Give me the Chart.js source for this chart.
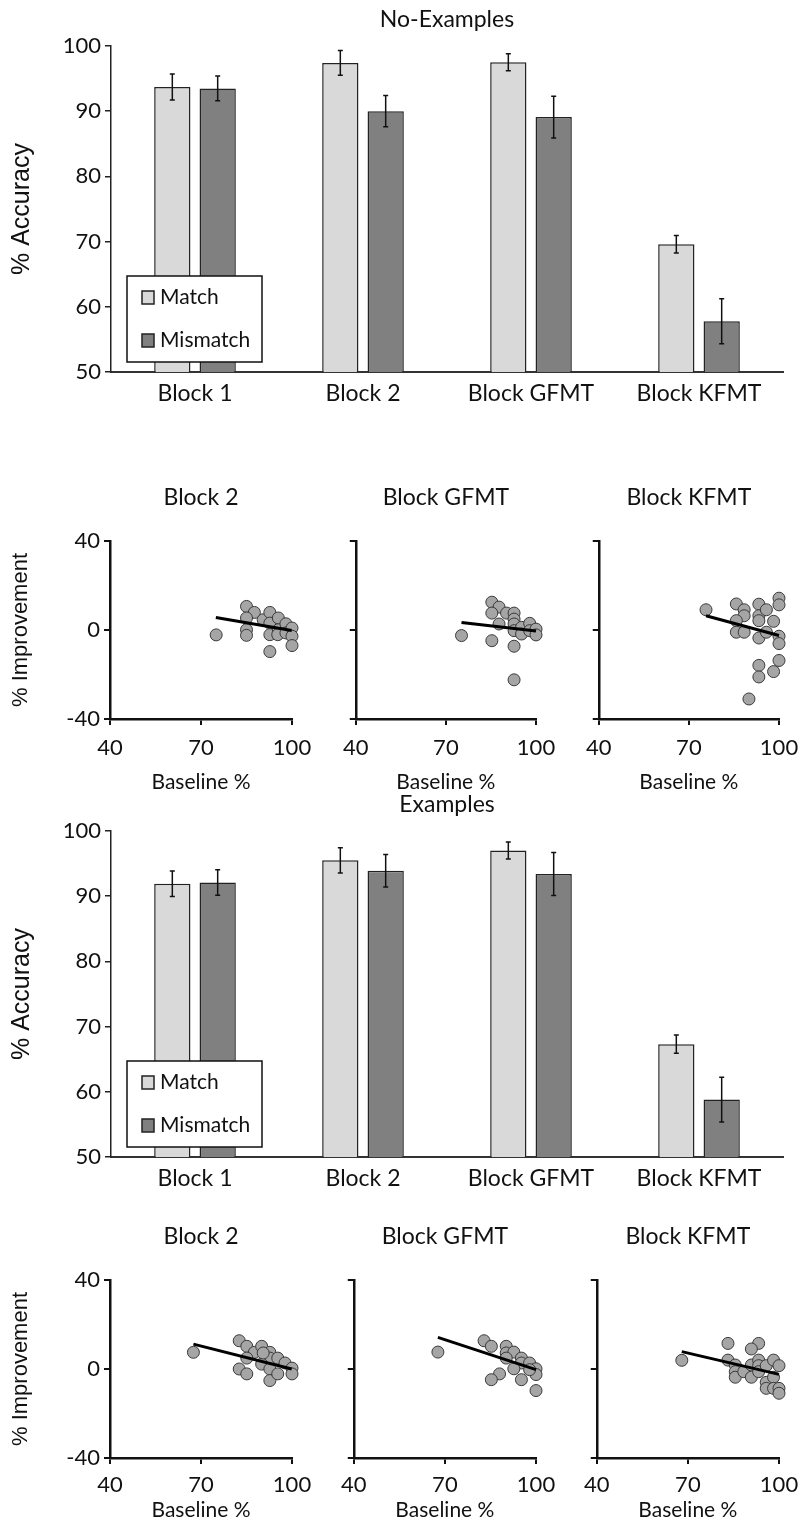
<!DOCTYPE html>
<html>
<head>
<meta charset="utf-8">
<script src="https://cdn.jsdelivr.net/npm/chart.js@4.4.0/dist/chart.umd.min.js"></script>
<style>
  html, body { margin: 0; padding: 0; background: #fff; overflow: hidden; }
  #page { position: relative; width: 800px; height: 1522px; overflow: hidden; }
  canvas { position: absolute; }
</style>
</head>
<body>
<div id="page">
  <canvas id="barNoEx" width="800" height="420" style="left:0;top:0"></canvas>
  <canvas id="scNoEx1" width="332" height="319" style="left:0;top:487px"></canvas>
  <canvas id="scNoEx2" width="243" height="319" style="left:333px;top:487px"></canvas>
  <canvas id="scNoEx3" width="243" height="319" style="left:576px;top:487px"></canvas>
  <canvas id="barEx" width="800" height="420" style="left:0;top:785px"></canvas>
  <canvas id="scEx1" width="332" height="308" style="left:0;top:1226px"></canvas>
  <canvas id="scEx2" width="243" height="308" style="left:333px;top:1226px"></canvas>
  <canvas id="scEx3" width="243" height="308" style="left:576px;top:1226px"></canvas>
</div>
<script>
// Categories
const blockLabels = ["Block 1", "Block 2", "Block GFMT", "Block KFMT"];

// No-Examples accuracy (%) and error bars
const noExMatch = [93.7, 97.4, 97.5, 69.6];
const noExMatchErr = [2.0, 1.9, 1.3, 1.35];
const noExMismatch = [93.5, 90.0, 89.1, 57.8];
const noExMismatchErr = [1.9, 2.4, 3.2, 3.45];

// Examples accuracy (%) and error bars
const exMatch = [91.9, 95.5, 97.0, 67.3];
const exMatchErr = [1.95, 1.95, 1.3, 1.4];
const exMismatch = [92.1, 93.9, 93.4, 58.8];
const exMismatchErr = [1.95, 2.5, 3.3, 3.45];

// Scatter: [baseline %, improvement %]
const noExBlock2 = [[75, -2.2], [85, 10.6], [87.6, 7.9], [85, 5.4], [85, 0.1], [85, -2.4], [90.5, 4.6],
  [92.7, 7.9], [92.7, 3.1], [92.7, -2.1], [92.7, -9.7], [95.5, 5.4], [95.5, 0.1], [95.3, -2.1],
  [98, 2.8], [98, -1.3], [100, 0.9], [100, -2.8], [100, -7.0]];
const noExBlock2Fit = [[74.9, 5.6], [99.9, -0.2]];

const noExGFMT = [[75.2, -2.5], [85.3, 12.5], [87.7, 10.3], [85.3, 7.6], [90.2, 7.6], [87.7, 2.7], [85.3, -4.8],
  [92.7, 7.6], [92.7, 4.9], [92.7, 2.7], [92.7, -0.3], [92.7, -7.3], [92.7, -22.4], [95.2, 1.2],
  [95.2, -1.8], [97.9, 3.0], [97.9, -0.3], [100, 0.4], [100, -2.2]];
const noExGFMTFit = [[75.2, 3.4], [100, -0.5]];

const noExKFMT = [[75.7, 9.1], [85.8, 11.7], [88.4, 9.1], [88.4, 6.4], [85.8, 4.2], [85.8, -1.0], [88.4, -1.0],
  [93.3, 11.6], [93.3, 6.4], [93.3, 4.2], [93.3, -3.6], [95.8, 9.1], [95.8, -1.0], [98.2, 3.9],
  [100, 14.3], [100, 11.3], [100, -2.8], [100, -6.1], [100, -13.7], [98.2, -18.7], [93.3, -15.9],
  [93.3, -21.1], [90, -31]];
const noExKFMTFit = [[75.7, 6.4], [100, -2.5]];

const exBlock2 = [[67.5, 7.5], [82.6, 12.7], [85.1, 10.2], [87.6, 7.5], [90, 10.2], [85.1, 4.9], [82.6, 0],
  [85.1, -2.2], [92.7, 7.5], [92.7, 4.9], [90, 2.2], [92.7, 0], [92.7, -5.2], [95.3, 4.9],
  [95.3, -2.2], [97.7, 2.7], [100, 0.4], [100, -2.2], [90.5, 7.2]];
const exBlock2Fit = [[67.5, 11.2], [99.9, 0]];

const exGFMT = [[67.7, 7.6], [82.9, 12.7], [85.3, 10.2], [90.2, 10.2], [90.2, 7.2], [92.7, 7.6], [90.2, 4.9],
  [95.2, 4.9], [95.2, 2.7], [97.9, 2.7], [92.7, 0.1], [100, 0.1], [100, -2.5], [97.9, -0.3],
  [88, -2.2], [85.3, -4.8], [95.2, -4.8], [100, -9.7]];
const exGFMTFit = [[67.7, 14.2], [100, -0.3]];

const exKFMT = [[68, 3.9], [83.2, 11.5], [93.3, 11.5], [90.9, 9.0], [83.2, 4.0], [85.6, 1.8], [85.6, -1.2],
  [85.6, -3.7], [88.4, -1.2], [90.9, 1.8], [90.9, -3.7], [93.3, 4.0], [93.3, 1.5], [93.3, -1.2],
  [95.8, 1.5], [95.8, -6.0], [95.8, -8.7], [98.2, 4.0], [98.2, -3.7], [98.2, -8.7], [100, 1.5],
  [100, -8.7], [100, -10.9]];
const exKFMTFit = [[68, 7.8], [100, -2.4]];

const matchColor = "#d9d9d9";
const mismatchColor = "#808080";

Chart.defaults.font.family = "Lato, 'Open Sans', sans-serif";
Chart.defaults.color = "#111";

// Error bars drawn from each dataset's "errors" array
const errorBarPlugin = {
  id: "errorBars",
  afterDatasetsDraw(chart) {
    const ctx = chart.ctx;
    const yScale = chart.scales.y;
    chart.data.datasets.forEach((ds, i) => {
      if (!ds.errors) return;
      chart.getDatasetMeta(i).data.forEach((bar, j) => {
        const top = yScale.getPixelForValue(ds.data[j] + ds.errors[j]);
        const bot = yScale.getPixelForValue(ds.data[j] - ds.errors[j]);
        ctx.save();
        ctx.strokeStyle = "#111";
        ctx.lineWidth = 1.5;
        ctx.beginPath();
        ctx.moveTo(bar.x, top);
        ctx.lineTo(bar.x, bot);
        ctx.moveTo(bar.x - 2.5, top);
        ctx.lineTo(bar.x + 2.5, top);
        ctx.moveTo(bar.x - 2.5, bot);
        ctx.lineTo(bar.x + 2.5, bot);
        ctx.stroke();
        ctx.restore();
      });
    });
  },
};

// Legend inside a white box, over the first bars
const boxLegendPlugin = {
  id: "boxLegend",
  afterDraw(chart, args, opts) {
    if (!opts || !opts.display) return;
    const ctx = chart.ctx;
    const x = opts.left;
    const y = chart.chartArea.top + opts.offsetTop;
    ctx.save();
    ctx.fillStyle = "#fff";
    ctx.fillRect(x, y, opts.width, opts.height);
    ctx.strokeStyle = "#111";
    ctx.lineWidth = 1.5;
    ctx.strokeRect(x, y, opts.width, opts.height);
    chart.data.datasets.forEach((ds, i) => {
      const rowY = y + opts.rowTop + i * opts.rowGap;
      ctx.fillStyle = ds.backgroundColor;
      ctx.fillRect(x + 15, rowY - 6.5, 12, 13);
      ctx.strokeStyle = "#222";
      ctx.strokeRect(x + 15, rowY - 6.5, 12, 13);
      ctx.fillStyle = "#111";
      ctx.font = "21px Lato";
      ctx.textBaseline = "middle";
      ctx.textAlign = "left";
      ctx.fillText(ds.label, x + 33, rowY);
    });
    ctx.restore();
  },
};

// Title centred over the plot area
const panelTitlePlugin = {
  id: "panelTitle",
  afterDraw(chart, args, opts) {
    if (!opts || !opts.text) return;
    const a = chart.chartArea;
    const ctx = chart.ctx;
    ctx.save();
    ctx.font = opts.size + "px Lato";
    ctx.fillStyle = "#111";
    ctx.textAlign = "center";
    ctx.textBaseline = "middle";
    ctx.fillText(opts.text, (a.left + a.right) / 2, a.top - opts.gap);
    ctx.restore();
  },
};

Chart.register(errorBarPlugin, boxLegendPlugin, panelTitlePlugin);

function makeBarChart(id, title, match, matchErr, mismatch, mismatchErr) {
  return new Chart(document.getElementById(id), {
    type: "bar",
    data: {
      labels: blockLabels,
      datasets: [
        {
          label: "Match",
          data: match,
          errors: matchErr,
          backgroundColor: matchColor,
          borderColor: "#222",
          borderWidth: 1.5,
          barPercentage: 0.8,
          categoryPercentage: 0.54,
        },
        {
          label: "Mismatch",
          data: mismatch,
          errors: mismatchErr,
          backgroundColor: mismatchColor,
          borderColor: "#222",
          borderWidth: 1.5,
          barPercentage: 0.8,
          categoryPercentage: 0.54,
        },
      ],
    },
    options: {
      responsive: false,
      animation: false,
      devicePixelRatio: 1,
      layout: { padding: { left: 0, right: 17, top: 46, bottom: 0 } },
      plugins: {
        legend: { display: false },
        tooltip: { enabled: false },
        panelTitle: { text: title, size: 23, gap: 26 },
        boxLegend: { display: true, left: 127, offsetTop: 230, width: 135, height: 86, rowTop: 21.5, rowGap: 43 },
      },
      scales: {
        x: {
          grid: { display: false },
          border: { display: true, color: "#333", width: 2 },
          ticks: { font: { size: 23 }, color: "#111", padding: 0 },
          afterFit: (s) => { s.height = 48; },
        },
        y: {
          min: 50,
          max: 100,
          ticks: { stepSize: 10, font: { size: 22 }, color: "#111", padding: 4 },
          grid: { display: true, drawOnChartArea: false, drawTicks: true, tickLength: 6, color: "#222", lineWidth: 1.5 },
          border: { display: true, color: "#222", width: 1.5 },
          title: {
            display: true,
            text: "% Accuracy",
            font: { family: "'Liberation Sans', Arial, sans-serif", size: 25 },
            color: "#111",
            padding: { top: 7, bottom: 0 },
          },
          afterFit: (s) => { s.width = 111; },
        },
      },
    },
  });
}

// axisH / tickPad set where the tick labels and "Baseline %" sit below the plot
function makeScatter(id, title, points, fit, showY, axisH, tickPad) {
  return new Chart(document.getElementById(id), {
    type: "scatter",
    data: {
      datasets: [
        {
          type: "line",
          data: fit.map((p) => ({ x: p[0], y: p[1] })),
          borderColor: "#000",
          borderWidth: 3,
          pointRadius: 0,
          showLine: true,
          fill: false,
          order: 0,
          clip: false,
        },
        {
          data: points.map((p) => ({ x: p[0], y: p[1] })),
          backgroundColor: "#a5a5a5",
          borderColor: "#3a3a3a",
          borderWidth: 1,
          pointRadius: 6,
          order: 1,
          clip: false,
        },
      ],
    },
    options: {
      responsive: false,
      animation: false,
      devicePixelRatio: 1,
      layout: { padding: { left: 0, right: 40, top: 54, bottom: 0 } },
      plugins: {
        legend: { display: false },
        tooltip: { enabled: false },
        panelTitle: { text: title, size: 23, gap: 43 },
        boxLegend: { display: false },
      },
      scales: {
        x: {
          type: "linear",
          min: 40,
          max: 100,
          ticks: { stepSize: 30, font: { size: 22 }, color: "#111", padding: tickPad },
          grid: { display: true, drawOnChartArea: false, drawTicks: true, tickLength: 6, color: "#111", lineWidth: 2 },
          border: { display: true, color: "#111", width: 2.5 },
          title: { display: true, text: "Baseline %", font: { size: 21 }, color: "#111", padding: { top: 0, bottom: 11 } },
          afterFit: (s) => { s.height = axisH; },
        },
        y: {
          min: -40,
          max: 40,
          ticks: {
            stepSize: 40,
            font: { size: 22 },
            color: "#111",
            padding: 4,
            callback: (v) => (showY ? v : ""),
          },
          grid: { display: true, drawOnChartArea: false, drawTicks: true, tickLength: 6, color: "#111", lineWidth: 2 },
          border: { display: true, color: "#111", width: 2.5 },
          title: {
            display: showY,
            text: "% Improvement",
            font: { family: "'Liberation Sans', Arial, sans-serif", size: 22 },
            color: "#111",
            padding: { top: 8, bottom: 0 },
          },
          afterFit: (s) => { s.width = showY ? 110 : 20; },
        },
      },
    },
  });
}

makeBarChart("barNoEx", "No-Examples", noExMatch, noExMatchErr, noExMismatch, noExMismatchErr);
makeScatter("scNoEx1", "Block 2", noExBlock2, noExBlock2Fit, true, 87, 10);
makeScatter("scNoEx2", "Block GFMT", noExGFMT, noExGFMTFit, false, 87, 10);
makeScatter("scNoEx3", "Block KFMT", noExKFMT, noExKFMTFit, false, 87, 10);

makeBarChart("barEx", "Examples", exMatch, exMatchErr, exMismatch, exMismatchErr);
makeScatter("scEx1", "Block 2", exBlock2, exBlock2Fit, true, 76, 8);
makeScatter("scEx2", "Block GFMT", exGFMT, exGFMTFit, false, 76, 8);
makeScatter("scEx3", "Block KFMT", exKFMT, exKFMTFit, false, 76, 8);
</script>
</body>
</html>
